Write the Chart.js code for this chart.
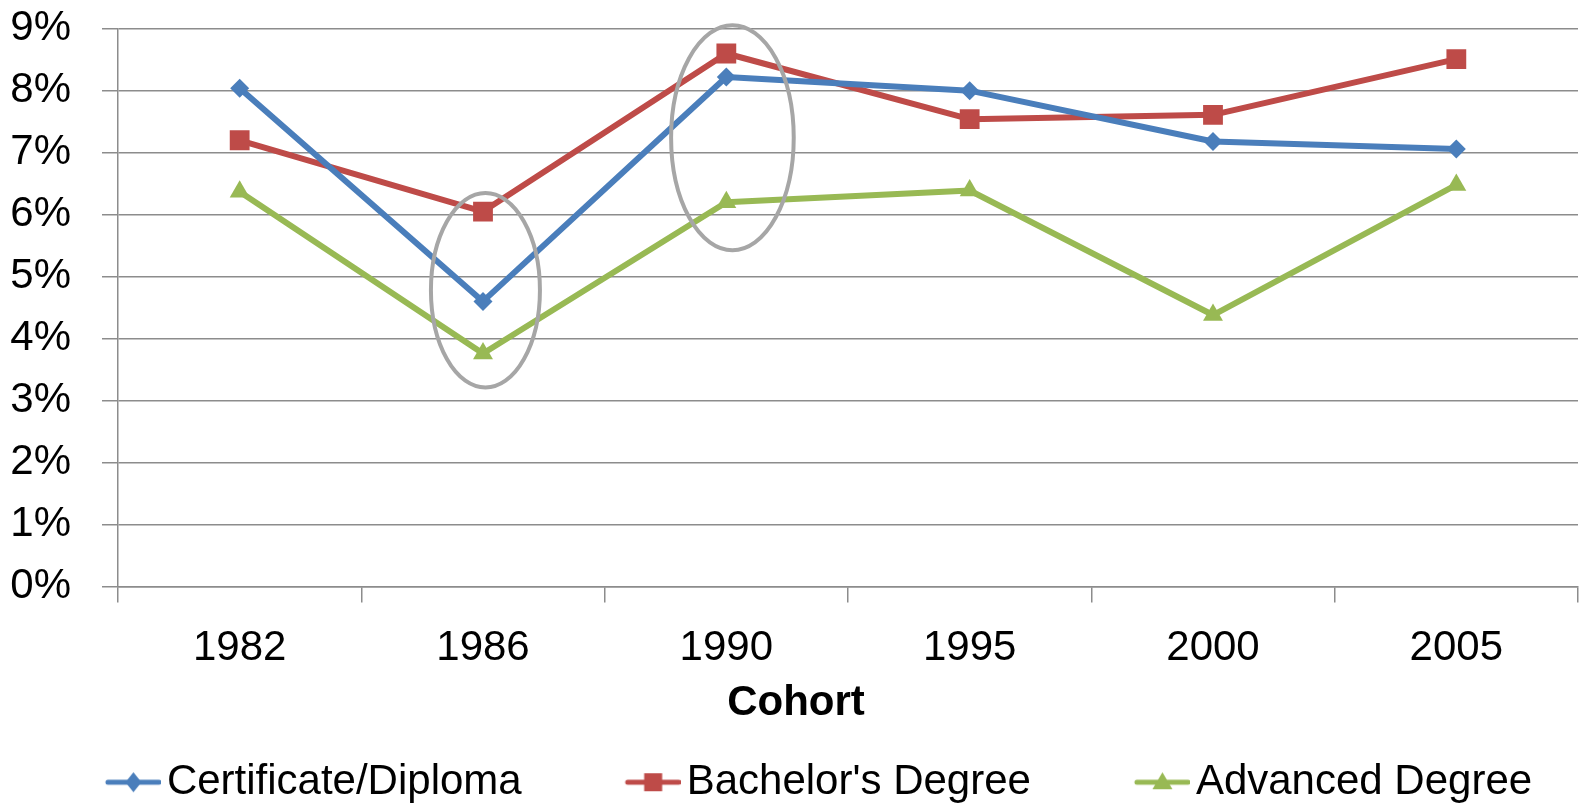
<!DOCTYPE html>
<html>
<head>
<meta charset="utf-8">
<script src="https://cdn.jsdelivr.net/npm/chart.js@4.4.1/dist/chart.umd.min.js"></script>
<style>
  html, body { margin: 0; padding: 0; background: #fff; }
  #frame { width: 1585px; height: 807px; overflow: hidden; position: relative; }
  #box { width: 1592px; height: 814px; position: relative; }
</style>
</head>
<body>
<div id="frame"><div id="box"><canvas id="cohortChart"></canvas></div></div>
<script>
// data (percent)
var cohorts = ['1982', '1986', '1990', '1995', '2000', '2005'];
var certificate = [8.04, 4.60, 8.22, 8.00, 7.18, 7.06];
var bachelors = [7.20, 6.05, 8.60, 7.54, 7.61, 8.51];
var advanced = [6.37, 3.76, 6.20, 6.39, 4.38, 6.48];
var seriesNames = ['Certificate/Diploma', "Bachelor's Degree", 'Advanced Degree'];
var axisTitle = 'Cohort';

var FONT = "'Liberation Sans', Arial, sans-serif";
var gridColor = '#8c8c8c';
var ICON_BOX = 86;   // legend pointStyleWidth
var LEGEND_GAP = 58; // legend labels.padding

// small line + marker picture for the legend, like Excel does
function legendIcon(color, style) {
    var c = document.createElement('canvas');
    c.width = ICON_BOX + 30;
    c.height = 24;
    var g = c.getContext('2d');
    var x1 = c.width - 55, x2 = c.width;
    g.strokeStyle = color;
    g.lineWidth = 5;
    g.lineCap = 'round';
    g.beginPath();
    g.moveTo(x1 + 2, 12);
    g.lineTo(x2 - 2, 12);
    g.stroke();
    g.fillStyle = color;
    g.beginPath();
    var cx = x2 - 27.5, cy = 12;
    if (style === 'rectRot') {
        g.moveTo(cx - 8, cy); g.lineTo(cx, cy - 10); g.lineTo(cx + 8, cy); g.lineTo(cx, cy + 10);
    } else if (style === 'rect') {
        g.rect(cx - 9, cy - 9, 18, 18);
    } else {
        g.moveTo(cx, cy - 10); g.lineTo(cx + 10, cy + 7); g.lineTo(cx - 10, cy + 7);
    }
    g.closePath();
    g.fill();
    return c;
}

// grey ellipses that circle the 1986 and 1990 points
var ellipses = [
    { at: 1.01, value: 4.78, rx: 0.224, ry: 1.57 },
    { at: 2.025, value: 7.24, rx: 0.252, ry: 1.815 }
];

var ellipsePlugin = {
    id: 'ellipses',
    afterDatasetsDraw: function(chart) {
        var ctx = chart.ctx, xs = chart.scales.x, ys = chart.scales.y;
        var step = xs.getPixelForValue(1) - xs.getPixelForValue(0);
        ctx.save();
        ctx.strokeStyle = '#a6a6a6';
        ctx.lineWidth = 4;
        ellipses.forEach(function(e) {
            var cx = xs.getPixelForValue(e.at);
            var cy = ys.getPixelForValue(e.value);
            var ry = ys.getPixelForValue(0) - ys.getPixelForValue(e.ry);
            ctx.beginPath();
            ctx.ellipse(cx, cy, e.rx * step, ry, 0, 0, Math.PI * 2);
            ctx.stroke();
        });
        ctx.restore();
    }
};

var colors = ['#4a7ebb', '#be4b48', '#98b954'];
var markers = ['rectRot', 'rect', 'triangle'];
var radii = [9.5, 14, 11.5];
var icons = colors.map(function(c, i) { return legendIcon(c, markers[i]); });

var ctx = document.getElementById('cohortChart').getContext('2d');
var chart = new Chart(ctx, {
    type: 'line',
    data: {
        labels: cohorts,
        datasets: [certificate, bachelors, advanced].map(function(vals, i) {
            return {
                label: seriesNames[i],
                data: vals,
                borderColor: colors[i],
                backgroundColor: colors[i],
                borderWidth: 6,
                borderJoinStyle: 'round',
                pointStyle: markers[i],
                pointRadius: radii[i],
                pointBorderWidth: 0,
                pointBackgroundColor: colors[i],
                tension: 0
            };
        })
    },
    options: {
        responsive: true,
        maintainAspectRatio: false,
        animation: false,
        devicePixelRatio: 1,
        layout: { padding: { top: 28.7, right: 0, left: 0, bottom: 0 } },
        scales: {
            x: {
                offset: true,
                grid: { offset: true, drawOnChartArea: false, drawTicks: true, tickLength: 16, color: gridColor, lineWidth: 1.5 },
                border: { display: true, color: gridColor, width: 1.5 },
                ticks: { color: '#000', padding: 20.3, font: { family: FONT, size: 42 } },
                afterFit: function(scale) { scale.height = 112.7 - (LEGEND_GAP - 62); }
            },
            y: {
                min: 0,
                max: 9,
                ticks: {
                    stepSize: 1,
                    autoSkip: false,
                    color: '#000',
                    padding: 31,
                    font: { family: FONT, size: 42 },
                    callback: function(v) { return v + '%'; }
                },
                grid: { color: gridColor, lineWidth: 1.5, tickLength: 16 },
                border: { display: true, color: gridColor, width: 1.5 },
                afterFit: function(scale) {
                    scale.width = 118;
                    scale.paddingTop = 0;
                    scale.paddingBottom = 0;
                }
            }
        },
        plugins: {
            tooltip: { enabled: false },
            title: {
                display: true,
                text: axisTitle,
                position: 'bottom',
                weight: 2000,
                color: '#000',
                font: { family: FONT, size: 42, weight: 'bold' },
                padding: { top: -135.4, bottom: 85.8 }
            },
            legend: {
                position: 'bottom',
                weight: 1000,
                labels: {
                    color: '#000',
                    font: { family: FONT, size: 42 },
                    usePointStyle: true,
                    pointStyleWidth: ICON_BOX,
                    padding: LEGEND_GAP,
                    generateLabels: function(chart) {
                        var items = Chart.defaults.plugins.legend.labels.generateLabels(chart);
                        items.forEach(function(it, i) { it.pointStyle = icons[i]; });
                        return items;
                    }
                }
            }
        }
    },
    plugins: [ellipsePlugin]
});
</script>
</body>
</html>
